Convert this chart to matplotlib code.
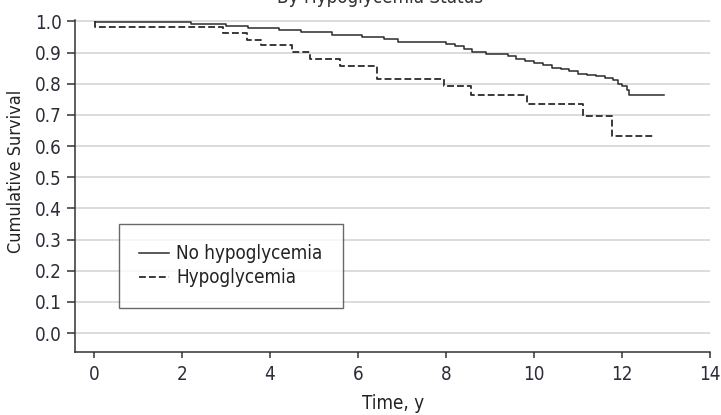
import matplotlib
matplotlib.use("Agg")
import matplotlib.pyplot as plt
from matplotlib.ticker import FixedLocator

plt.rcParams['font.family'] = ['Liberation Sans Narrow', 'DejaVu Sans']
plt.rcParams['font.stretch'] = 'condensed'

# Kaplan-Meier step estimates (time in years, cumulative survival)
time_no_hypo = [0.03, 2.2, 3.0, 3.5, 4.2, 4.7, 5.4, 6.1, 6.6, 6.9, 7.8, 8.0, 8.2,
                8.4, 8.6, 8.9, 9.2, 9.4, 9.6, 9.8, 10.0, 10.2, 10.4, 10.6, 10.8,
                11.0, 11.2, 11.4, 11.6, 11.8, 11.9, 12.0, 12.1, 12.15, 12.95]
surv_no_hypo = [0.999, 0.992, 0.985, 0.979, 0.974, 0.967, 0.957, 0.950, 0.943,
                0.935, 0.933, 0.927, 0.920, 0.912, 0.903, 0.897, 0.894, 0.888,
                0.880, 0.872, 0.866, 0.860, 0.852, 0.846, 0.840, 0.833, 0.828,
                0.824, 0.817, 0.812, 0.800, 0.792, 0.780, 0.765, 0.765]

time_hypo = [0.03, 0.03, 2.93, 3.48, 3.8, 4.5, 4.9, 5.6, 6.43, 7.95, 8.57, 9.84,
             11.1, 11.77, 12.7]
surv_hypo = [1.0, 0.982, 0.963, 0.942, 0.925, 0.902, 0.880, 0.857, 0.814, 0.792,
             0.765, 0.736, 0.698, 0.632, 0.632]

x_ticks = [0, 2, 4, 6, 8, 10, 12, 14]
y_ticks = [0.0, 0.1, 0.2, 0.3, 0.4, 0.5, 0.6, 0.7, 0.8, 0.9, 1.0]

fig = plt.figure(figsize=(7.21, 4.15), dpi=100)
ax = fig.add_axes([0.104, 0.1518, 0.881, 0.8002])

line_col = '#2b2b2b'
ax.step(time_no_hypo, surv_no_hypo, where='post', color=line_col, lw=1.1,
        label='No hypoglycemia', zorder=3)
ax.step(time_hypo, surv_hypo, where='post', color=line_col, lw=1.3,
        dashes=(3.8, 1.7), label='Hypoglycemia', zorder=3)

ax.set_xlim(-0.43, 14.0)
ax.set_ylim(-0.061, 1.005)
ax.xaxis.set_major_locator(FixedLocator(x_ticks))
ax.yaxis.set_major_locator(FixedLocator(y_ticks))
ax.set_yticklabels([f"{v:.1f}" for v in y_ticks])

for yv in y_ticks:
    ax.axhline(yv, color='#dcdcdc', lw=1.4, zorder=1)

for side in ('top', 'right'):
    ax.spines[side].set_visible(False)
for side in ('left', 'bottom'):
    ax.spines[side].set_color('#333333')
    ax.spines[side].set_linewidth(1.1)

tick_col = '#2c2c38'
ax.tick_params(axis='both', direction='out', width=1.1,
               color='#333333', labelsize=13.5, labelcolor=tick_col)
ax.tick_params(axis='x', length=4.5, pad=5)
ax.tick_params(axis='y', length=6, pad=3.5)

ax.set_xlabel('Time, y', fontsize=13.5, color='#222222', labelpad=7)
ax.set_ylabel('Cumulative Survival', fontsize=13, color='#222222')
ax.yaxis.set_label_coords(-0.079, 0.545)

leg = ax.legend(loc='upper left', bbox_to_anchor=(0.069, 0.1325, 0.353, 0.2535),
                mode='expand', borderaxespad=0, fontsize=13.5, frameon=True,
                fancybox=False, handlelength=1.55, handletextpad=0.4,
                borderpad=1.1, labelspacing=0.25)
leg.get_frame().set_edgecolor('#444444')
leg.get_frame().set_linewidth(1.0)
for t in leg.get_texts():
    t.set_color('#222222')

fig.text(0.527, 0.993, 'By Hypoglycemia Status', ha='center', va='baseline',
         fontsize=13.5, color='#333333')

fig.savefig('out.png', dpi=100)
